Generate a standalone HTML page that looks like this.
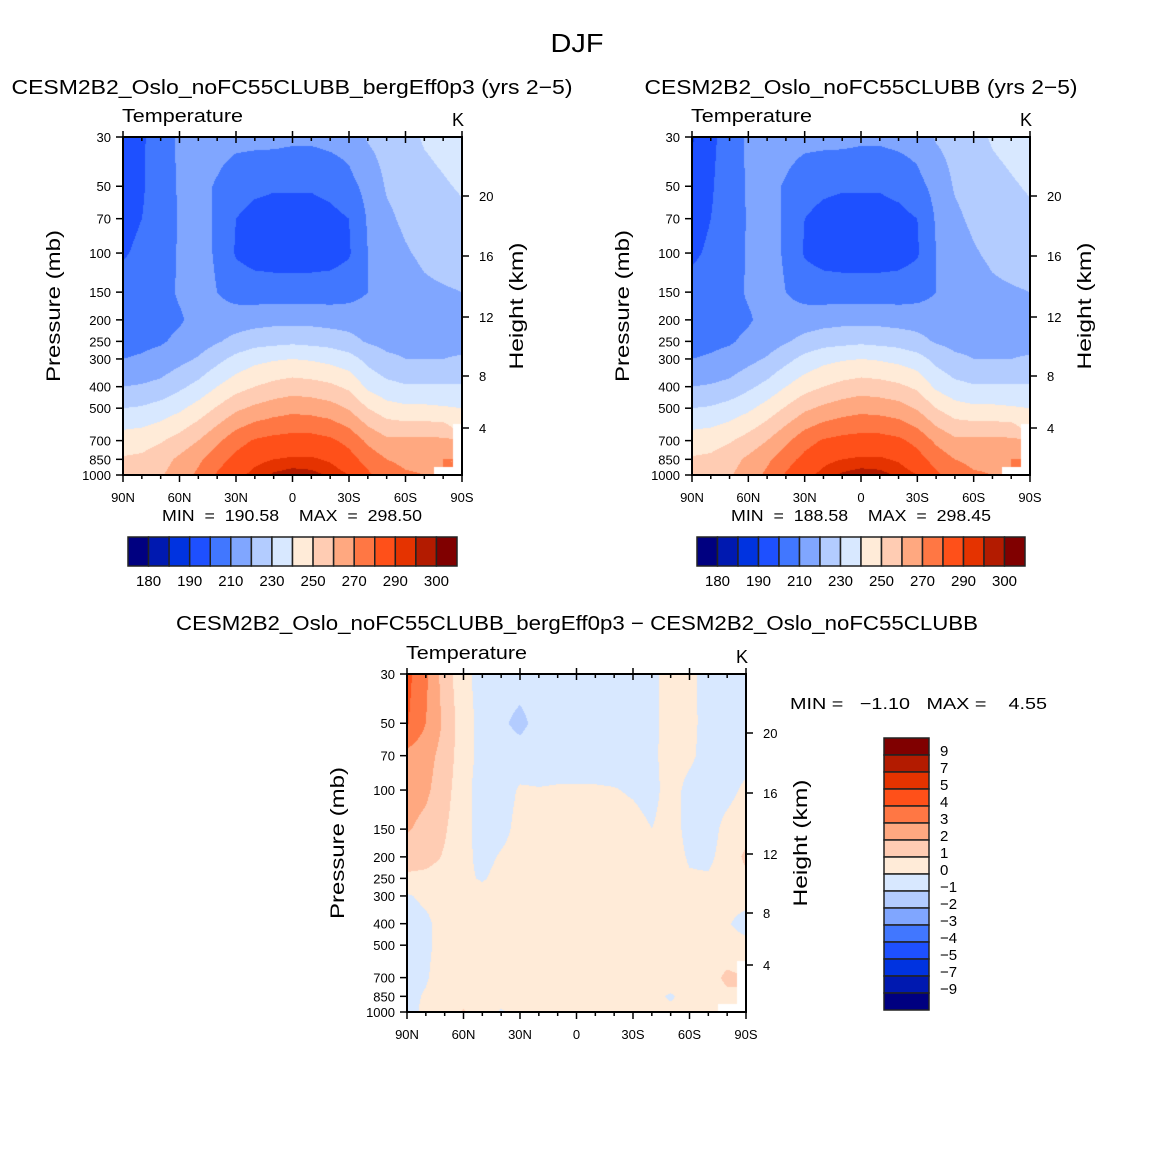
<!DOCTYPE html>
<html><head><meta charset="utf-8"><style>
body{margin:0;background:#fff;}
#wrap{position:relative;width:1154px;height:1152px;overflow:hidden;font-family:"Liberation Sans",sans-serif;}
canvas{position:absolute;}
svg{position:absolute;left:0;top:0;}
</style></head><body>
<div id="wrap">
<canvas id="c1" width="339" height="338" style="left:123px;top:137px"></canvas>
<canvas id="c2" width="338" height="338" style="left:692px;top:137px"></canvas>
<canvas id="c3" width="339" height="338" style="left:407px;top:674px"></canvas>
<svg id="s" width="1154" height="1152"></svg>
</div>
<script>
const lats=[90,80,70,60,50,40,30,20,10,0,-10,-20,-30,-40,-50,-60,-70,-80,-90];
const plevs=[30,50,70,100,150,200,250,300,400,500,700,850,1000];
const tempLevels=[180,185,190,200,210,220,230,240,250,260,270,280,290,295,300];
const diffLevels=[-9,-7,-5,-4,-3,-2,-1,0,1,2,3,4,5,7,9];
const tempTickLabels=["180","190","210","230","250","270","290","300"];
const diffTickLabels=["9","7","5","4","3","2","1","0","\u22121","\u22122","\u22123","\u22124","\u22125","\u22127","\u22129"];
const colors=["#000080","#0019b0","#0033e0","#1e50ff","#4177ff","#80a6ff","#b3ccff","#d8e8ff","#ffebd8","#ffccb3","#ffa880","#ff7744","#ff5019","#e53300","#b31b00","#800000"];
const tempA=[
[196,199,204,212,213,214,213,213,213,212,212,213,214,221,224,227,231,233,235],
[197,199,205,211,213,209,204,202,201,201,201,203,207,213,221,224,227,229,231],
[197,200,204,211,213,209,200,197,196,196,196,197,200,211,218,222,225,227,228],
[199,202,205,211,213,209,199,196,195,195,195,196,199,210,215,219,222,224,225],
[204,205,207,211,213,210,206,205,205,205,205,205,206,210,213,215,218,219,220],
[205,206,207,209,213,214,215,216,217,217,217,216,216,215,215,215,215,214,216],
[207,208,209,212,215,219,223,226,227,228,227,226,223,219,217,217,217,217,217],
[210,211,213,217,221,227,233,237,239,240,239,237,234,227,222,220,220,220,221],
[220,221,223,228,233,240,246,250,253,255,254,252,248,238,233,231,231,231,231],
[230,231,234,238,244,251,258,262,265,267,266,264,259,250,244,242,242,241,240],
[245,246,249,254,260,268,276,281,283,284,284,282,277,268,262,262,262,262,null],
[251,252,256,262,268,276,283,288,290,291,291,289,284,276,270,268,268,270,null],
[255,256,259,265,272,281,288,292,296,298,297,294,290,282,274,271,270,null,null]];
const tempB=[
[189,198,204,212,213,214,213,213,213,212,212,213,214,221,224,227,231,233,235],
[192,199,205,211,213,209,204,202,201,201,201,203,207,213,221,224,227,229,231],
[195,200,204,211,213,209,200,197,196,196,196,197,200,211,218,222,225,227,228],
[198,202,205,211,213,209,199,196,195,195,195,196,199,210,215,219,222,224,225],
[204,205,207,211,213,210,206,205,205,205,205,205,206,210,213,215,218,219,220],
[205,206,207,209,213,214,215,216,217,217,217,216,216,215,215,215,215,214,216],
[207,208,209,212,215,219,223,226,227,228,227,226,223,219,217,217,217,217,217],
[210,211,213,217,221,227,233,237,239,240,239,237,234,227,222,220,220,220,221],
[220,221,223,228,233,240,246,250,253,255,254,252,248,238,233,231,231,231,231],
[230,231,234,238,244,251,258,262,265,267,266,264,259,250,244,242,242,241,240],
[245,246,249,254,260,268,276,281,283,284,284,282,277,268,262,262,262,262,null],
[251,252,256,262,268,276,283,288,290,291,291,289,284,276,270,268,268,270,null],
[255,256,259,265,272,281,288,292,296,298,297,294,290,282,274,271,270,null,null]];
const diffAB=[
[4.3,3.2,1.5,0.3,-0.4,-0.5,-0.5,-0.5,-0.5,-0.5,-0.5,-0.5,-0.4,-0.2,0.3,0.2,-0.3,-0.5,-0.5],
[4.1,3.0,1.8,0.4,-0.3,-0.8,-1.3,-0.6,-0.5,-0.5,-0.5,-0.5,-0.4,-0.2,0.3,0.3,-0.4,-0.5,-0.5],
[2.7,2.4,1.6,0.4,-0.3,-0.5,-0.5,-0.5,-0.5,-0.5,-0.5,-0.5,-0.4,-0.2,0.4,0.2,-0.4,-0.4,-0.4],
[2.5,2.2,1.4,0.3,-0.4,-0.4,0.1,0.05,0.1,0.1,0.1,0.05,-0.1,-0.3,0.4,-0.3,-0.4,-0.3,0.2],
[2.1,1.7,1.1,0.3,-0.4,-0.3,0.3,0.4,0.4,0.4,0.4,0.4,0.3,0.0,0.4,-0.3,-0.4,0.3,0.6],
[1.5,1.4,0.9,0.3,-0.3,0.1,0.4,0.5,0.5,0.5,0.5,0.5,0.5,0.4,0.4,-0.1,-0.2,0.4,1.2],
[0.8,0.7,0.5,0.2,-0.1,0.3,0.4,0.5,0.5,0.5,0.5,0.5,0.5,0.4,0.4,0.1,0.1,0.4,0.8],
[-0.1,0.2,0.4,0.4,0.4,0.5,0.5,0.5,0.5,0.5,0.5,0.5,0.5,0.5,0.5,0.5,0.4,0.4,0.4],
[-0.4,-0.2,0.4,0.5,0.5,0.5,0.5,0.5,0.5,0.5,0.5,0.5,0.5,0.5,0.5,0.5,0.4,0.1,-0.4],
[-0.4,-0.2,0.4,0.5,0.5,0.5,0.5,0.5,0.5,0.5,0.5,0.5,0.5,0.5,0.5,0.5,0.5,0.4,0.3],
[-0.4,-0.1,0.5,0.5,0.5,0.5,0.5,0.5,0.5,0.5,0.5,0.5,0.5,0.5,0.5,0.5,0.6,1.2,null],
[-0.3,0.1,0.5,0.5,0.5,0.4,0.3,0.4,0.5,0.5,0.5,0.5,0.3,0.2,-0.1,0.3,0.6,0.8,null],
[-0.3,0.2,0.6,1.1,0.5,-0.1,0.3,0.4,0.4,0.4,0.4,0.4,0.4,0.4,0.2,0.4,0.6,null,null]];

const LP0=Math.log(30),LPR=Math.log(1000/30);
const lplev=plevs.map(p=>Math.log(p));
function binColor(v,levels){let b=0;while(b<levels.length&&v>=levels[b])b++;return colors[b];}
function drawField(id,field,levels){
  const c=document.getElementById(id),ctx=c.getContext('2d'),w=c.width,h=c.height;
  for(let py=0;py<h;py++){
    const lp=LP0+(py+0.5)/h*LPR;
    let i=0;while(i<plevs.length-2&&lp>lplev[i+1])i++;
    const fy=Math.min(1,Math.max(0,(lp-lplev[i])/(lplev[i+1]-lplev[i])));
    for(let px=0;px<w;px++){
      const lat=90-(px+0.5)/w*180;
      let jf=(90-lat)/10;let j=Math.min(lats.length-2,Math.floor(jf));const fx=jf-j;
      const v00=field[i][j],v01=field[i][j+1],v10=field[i+1][j],v11=field[i+1][j+1];
      const near=[[v00,(1-fx)*(1-fy)],[v01,fx*(1-fy)],[v10,(1-fx)*fy],[v11,fx*fy]];
      let best=near.reduce((a,b)=>b[1]>a[1]?b:a);
      if(best[0]===null)continue;
      let s=0,ws=0;near.forEach(([v,wt])=>{if(v!==null){s+=v*wt;ws+=wt;}});
      ctx.fillStyle=binColor(s/ws,levels);ctx.fillRect(px,py,1,1);
    }
  }
}
drawField('c1',tempA,tempLevels);
drawField('c2',tempB,tempLevels);
drawField('c3',diffAB,diffLevels);

const S=document.getElementById('s');const NS='http://www.w3.org/2000/svg';
function el(tag,attrs,txt){const e=document.createElementNS(NS,tag);for(const k in attrs)e.setAttribute(k,attrs[k]);if(txt!==undefined)e.textContent=txt;S.appendChild(e);return e;}
function text(x,y,t,size,anchor,name,rot,len){const a={x:x,y:y,'font-size':size,'text-anchor':anchor||'start','font-family':'Liberation Sans, sans-serif',fill:'#000'};if(rot)a.transform='rotate(-90 '+x+' '+y+')';if(len){a.textLength=len;a.lengthAdjust='spacingAndGlyphs';}const e=el('text',a,t);

return e;}

text(577,52,'DJF',26,'middle','main-title',false,53);
const xLabels=['90N','60N','30N','0','30S','60S','90S'];
const pLabels=['30','50','70','100','150','200','250','300','400','500','700','850','1000'];
const hLabels=[4,8,12,16,20];
const hOffsets=[-47,-99,-158,-219,-279];
function panel(x0,y0,w,h,pref){
  const r=el('rect',{x:x0,y:y0,width:w,height:h,fill:'none',stroke:'#000','stroke-width':2});
  
  
  const yOf=p=>y0+h*(Math.log(p)-LP0)/LPR;
  for(let k=0;k<=18;k++){
    const x=x0+w*k/18,maj=k%3===0;
    el('line',{x1:x,x2:x,y1:y0+h,y2:y0+h+(maj?7:4),stroke:'#000','stroke-width':1.5});
    el('line',{x1:x,x2:x,y1:y0+(maj?-6:0),y2:y0+(maj?6:4),stroke:'#000','stroke-width':1.5});
    if(maj)text(x,y0+h+27,xLabels[k/3],13,'middle',pref+'-x-tick-label');
  }
  plevs.forEach((p,k)=>{const y=yOf(p);el('line',{x1:x0-7,x2:x0,y1:y,y2:y,stroke:'#000','stroke-width':1.5});
    text(x0-12,y+5,pLabels[k],13,'end',pref+'-y-tick-label');});
  hLabels.forEach((hv,k)=>{const y=y0+h+hOffsets[k];el('line',{x1:x0+w,x2:x0+w+7,y1:y,y2:y,stroke:'#000','stroke-width':1.5});
    text(x0+w+17,y+5,String(hv),13,'start',pref+'-right-tick-label');});
  text(x0-1,y0-15,'Temperature',18,'start',pref+'-variable-label',false,121);
  text(x0+w-4,y0-11,'K',18,'middle',pref+'-units-label');
  text(x0-63,y0+h/2,'Pressure (mb)',19,'middle',pref+'-y-axis-title',true,152);
  text(x0+w+61,y0+h/2,'Height (km)',19,'middle',pref+'-right-axis-title',true,127);
}
panel(123,137,339,338,'panel1');
panel(692,137,338,338,'panel2');
panel(407,674,339,338,'diff');
text(292,94,'CESM2B2_Oslo_noFC55CLUBB_bergEff0p3 (yrs 2\u22125)',20,'middle','panel1-title',false,561);
text(861,94,'CESM2B2_Oslo_noFC55CLUBB (yrs 2\u22125)',20,'middle','panel2-title',false,433);
text(577,630,'CESM2B2_Oslo_noFC55CLUBB_bergEff0p3 \u2212 CESM2B2_Oslo_noFC55CLUBB',20,'middle','diff-title',false,802);
text(292,521,'MIN  =  190.58    MAX  =  298.50',16,'middle','panel1-minmax',false,260).setAttribute('style','white-space:pre');
text(861,521,'MIN  =  188.58    MAX  =  298.45',16,'middle','panel2-minmax',false,260).setAttribute('style','white-space:pre');
text(790,709,'MIN =   \u22121.10   MAX =    4.55',16,'start','diff-minmax',false,257).setAttribute('style','white-space:pre');

function hbar(x0,y0,w,h,pref){
  const bw=w/16;
  for(let k=0;k<16;k++){const r=el('rect',{x:x0+k*bw,y:y0,width:bw,height:h,fill:colors[k],stroke:'#222','stroke-width':1.5});
    
    }
  tempTickLabels.forEach((t,k)=>text(x0+bw*(1+2*k),y0+h+20,t,15,'middle',pref+'-colorbar-label'));
}
hbar(128,537,329,29,'panel1');
hbar(697,537,328,29,'panel2');
(function(){const x0=884,y0=738,w=45,h=272,bh=h/16;
  for(let k=0;k<16;k++){const r=el('rect',{x:x0,y:y0+k*bh,width:w,height:bh,fill:colors[15-k],stroke:'#222','stroke-width':1.5});
    
    }
  diffTickLabels.forEach((t,k)=>text(x0+w+11,y0+bh*(k+1)+1,t,15,'start','diff-colorbar-label'));
})();
</script>
</body></html>
